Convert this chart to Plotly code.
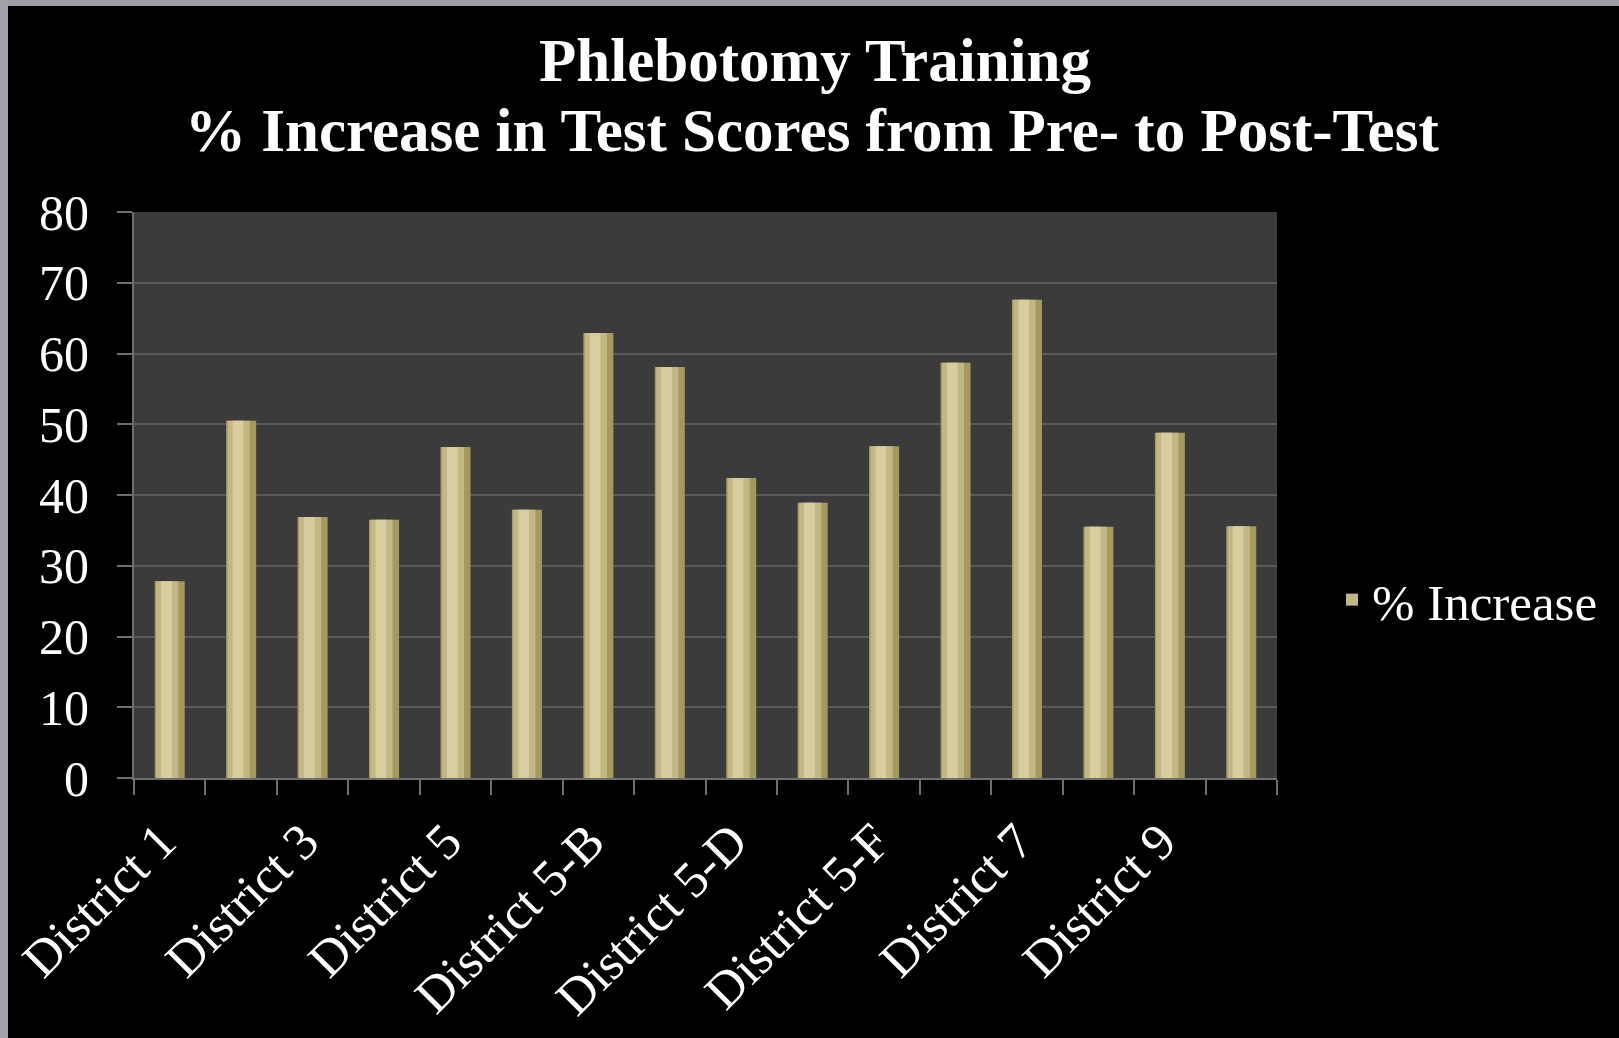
import plotly.graph_objects as go

categories = ["District 1", "District 2", "District 3", "District 4", "District 5",
              "District 5-A", "District 5-B", "District 5-C", "District 5-D", "District 5-E",
              "District 5-F", "District 6", "District 7", "District 8", "District 9", "District 10"]
pct_increase = [27.8, 50.5, 36.9, 36.5, 46.8, 37.9, 62.9, 58.1,
                42.4, 38.9, 46.9, 58.7, 67.6, 35.5, 48.8, 35.6]
shown_labels = [c if i % 2 == 0 else "" for i, c in enumerate(categories)]
y_ticks = [0, 10, 20, 30, 40, 50, 60, 70, 80]
title_line1 = "Phlebotomy Training"
title_line2 = "% Increase in Test Scores from Pre- to Post-Test"

W, H = 1619, 1038
ML, MR, MT, MB = 134, 342, 212, 260
PW, PH = W - ML - MR, H - MT - MB

FONT = "Liberation Serif"

fig = go.Figure()
# layered bars to suggest the gold cylinder shading
layers = [
    (0.42, -0.21, "#a59a5e", False),
    (0.31, -0.19, "#c3b883", True),
    (0.15, -0.12, "#d7cd9e", False),
]
for w, off, col, leg in layers:
    fig.add_trace(go.Bar(
        x=categories, y=pct_increase, width=w, offset=off,
        marker=dict(color=col, line=dict(width=0)),
        name="% Increase", showlegend=leg, hoverinfo="x+y",
    ))

def px_to_paper_x(px):
    return (px - ML) / PW

def px_to_paper_y(py):
    return (H - MB - py) / PH

shapes = [
    dict(type="rect", xref="paper", yref="paper", layer="above",
         x0=px_to_paper_x(0), x1=px_to_paper_x(W), y0=px_to_paper_y(6), y1=px_to_paper_y(0),
         fillcolor="#9d9ba3", line=dict(width=0)),
    dict(type="rect", xref="paper", yref="paper", layer="above",
         x0=px_to_paper_x(0), x1=px_to_paper_x(8), y0=px_to_paper_y(H), y1=px_to_paper_y(0),
         fillcolor="#a3a1a8", line=dict(width=0)),
]

fig.update_layout(
    width=W, height=H,
    margin=dict(l=ML, r=MR, t=MT, b=MB, autoexpand=False),
    paper_bgcolor="#000000",
    plot_bgcolor="#3b3b3b",
    barmode="overlay",
    font=dict(family=FONT, color="#ffffff", size=50),
    title=dict(
        text="<b>" + title_line1 + "</b>",
        x=0.5034, xanchor="center", xref="container",
        y=1 - 60 / H, yanchor="middle", yref="container",
        font=dict(family=FONT, size=61, color="#ffffff"),
    ),
    annotations=[dict(
        text="<b>" + title_line2 + "</b>", showarrow=False,
        xref="paper", yref="paper",
        x=px_to_paper_x(0.5015 * W), xanchor="center",
        y=px_to_paper_y(130), yanchor="middle",
        font=dict(family=FONT, size=61, color="#ffffff"),
    )],
    legend=dict(
        x=px_to_paper_x(1332), xanchor="left",
        y=px_to_paper_y(600), yanchor="middle",
        font=dict(family=FONT, size=51, color="#ffffff"),
        bgcolor="rgba(0,0,0,0)",
    ),
    xaxis=dict(
        type="category", range=[-0.5, len(categories) - 0.5],
        tickmode="array", tickvals=categories, ticktext=shown_labels,
        tickson="boundaries", ticks="outside", ticklen=15, tickwidth=2,
        tickcolor="#6e6e6e", tickangle=-45,
        showline=True, linecolor="#6e6e6e", linewidth=2,
        showgrid=False, zeroline=False,
        tickfont=dict(family=FONT, size=51, color="#ffffff"),
        ticklabelstandoff=11, ticklabelshift=-9,
    ),
    yaxis=dict(
        range=[0, 80], tickmode="array", tickvals=y_ticks,
        ticks="outside", ticklen=15, tickwidth=2, tickcolor="#6e6e6e",
        showline=True, linecolor="#6e6e6e", linewidth=2,
        showgrid=True, gridcolor="#5a5a5a", gridwidth=2,
        zeroline=False,
        tickfont=dict(family=FONT, size=50, color="#ffffff"),
        ticklabelstandoff=18,
    ),
    shapes=shapes,
)

fig.write_html("out.html", config={"displayModeBar": False},
               post_script="document.body.style.margin='0';")
